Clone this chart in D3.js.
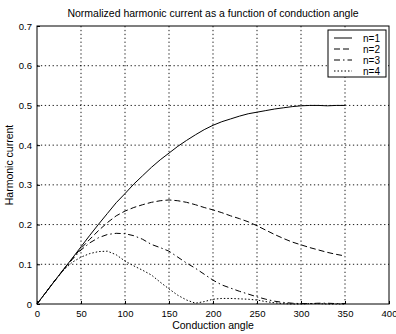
<!DOCTYPE html>
<html>
<head>
<meta charset="utf-8">
<script src="https://cdn.jsdelivr.net/npm/d3@7"></script>
<style>
  body { margin: 0; background: #fff; }
  text { font-family: "Liberation Sans", Arial, sans-serif; fill: #000; }
</style>
</head>
<body>
<div id="chart"></div>
<script>
// angles (degrees) and harmonic values
var angles = [0, 10, 20, 30, 40, 50, 60, 70, 80, 90, 100, 110, 120, 130, 140, 150, 160, 170, 180,
              190, 200, 210, 220, 230, 240, 250, 260, 270, 280, 290, 300, 310, 320, 330, 340, 350];

var n1 = [0, .029, .058, .087, .115, .144, .173, .201, .228, .255, .278, .302, .323, .344, .363, .380, .397, .412, .426,
          .439, .450, .459, .466, .473, .479, .483, .487, .491, .494, .497, .499, .500, .500, .499, .500, .500];
var n2 = [0, .029, .058, .086, .114, .140, .163, .185, .205, .222, .234, .243, .250, .256, .260, .262, .260, .256, .250,
          .243, .237, .230, .222, .215, .207, .197, .186, .175, .165, .156, .149, .142, .136, .130, .125, .121];
var n3 = [0, .029, .058, .086, .112, .136, .154, .167, .175, .178, .177, .172, .163, .150, .142, .133, .118, .103, .090,
          .075, .060, .048, .040, .032, .025, .018, .012, .007, .004, .002, .001, .001, .002, .002, .001, .001];
var n4 = [0, .029, .058, .085, .105, .118, .127, .132, .133, .124, .108, .096, .085, .073, .055, .038, .022, .010, .002,
          .006, .012, .014, .014, .013, .012, .010, .006, .003, .001, 0, 0, .001, .001, 0, 0, 0];

var seriesNames = ["n=1", "n=2", "n=3", "n=4"];
var seriesDash = ["none", "6,3", "6,3,1.5,3", "1.5,2"];

var xTicks = [0, 50, 100, 150, 200, 250, 300, 350, 400];
var yTicks = [0, 0.1, 0.2, 0.3, 0.4, 0.5, 0.6, 0.7];

var margin = {top: 26, right: 7, bottom: 30, left: 37},
    W = 396, H = 334,
    width = W - margin.left - margin.right,
    height = H - margin.top - margin.bottom;

var svg = d3.select("#chart").append("svg")
    .attr("width", W)
    .attr("height", H);

var g = svg.append("g")
    .attr("transform", "translate(" + margin.left + "," + margin.top + ")");

var x = d3.scaleLinear().domain([0, 400]).range([0, width]);
var y = d3.scaleLinear().domain([0, 0.7]).range([height, 0]);

// dotted grid
g.selectAll(".vgrid").data(xTicks.slice(1, -1)).enter().append("line")
    .attr("x1", function(d) { return x(d); }).attr("x2", function(d) { return x(d); })
    .attr("y1", 0).attr("y2", height)
    .attr("stroke", "#000").attr("stroke-width", 0.9).attr("stroke-dasharray", "1.3,2.6");
g.selectAll(".hgrid").data(yTicks.slice(1, -1)).enter().append("line")
    .attr("y1", function(d) { return y(d); }).attr("y2", function(d) { return y(d); })
    .attr("x1", 0).attr("x2", width)
    .attr("stroke", "#000").attr("stroke-width", 0.9).attr("stroke-dasharray", "1.3,2.6");

// axes, ticks pointing inward
var xAxis = g.append("g")
    .attr("transform", "translate(0," + height + ")")
    .call(d3.axisBottom(x).tickValues(xTicks).tickSize(-3).tickPadding(6).tickFormat(d3.format("d")));
var yAxis = g.append("g")
    .call(d3.axisLeft(y).tickValues(yTicks).tickSize(-3).tickPadding(5)
      .tickFormat(function(d) { return d === 0 ? "0" : d3.format(".1f")(d); }));
[xAxis, yAxis].forEach(function(a) {
  a.select(".domain").remove();
  a.selectAll("line").attr("stroke", "#000");
  a.selectAll("text").attr("font-size", "9.5px").attr("fill", "#000")
    .attr("font-family", "'Liberation Sans', Arial, sans-serif");
});

// box
g.append("rect")
    .attr("width", width).attr("height", height)
    .attr("fill", "none").attr("stroke", "#000").attr("stroke-width", 1);

// curves
var allSeries = [n1, n2, n3, n4];
var line = d3.line()
    .x(function(d, i) { return x(angles[i]); })
    .y(function(d) { return y(d); });

g.selectAll(".curve").data(allSeries).enter().append("path")
    .attr("d", line)
    .attr("fill", "none")
    .attr("stroke", "#000")
    .attr("stroke-width", 1)
    .attr("stroke-dasharray", function(d, i) { return seriesDash[i]; });

// legend
var lg = g.append("g").attr("transform", "translate(" + (width - 61) + ",4)");
lg.append("rect")
    .attr("width", 58).attr("height", 47)
    .attr("fill", "#fff").attr("stroke", "#000").attr("stroke-width", 1);
seriesNames.forEach(function(name, i) {
  var yy = 8 + i * 11;
  lg.append("line")
    .attr("x1", 6).attr("x2", 24).attr("y1", yy).attr("y2", yy)
    .attr("stroke", "#000").attr("stroke-width", 1)
    .attr("stroke-dasharray", seriesDash[i]);
  lg.append("text")
    .attr("x", 52).attr("y", yy + 3.5)
    .attr("text-anchor", "end")
    .attr("font-size", "10px")
    .text(name);
});

// title and axis labels
svg.append("text")
    .attr("x", margin.left + width / 2).attr("y", 17)
    .attr("text-anchor", "middle")
    .attr("font-size", "10.5px")
    .text("Normalized harmonic current as a function of conduction angle");

svg.append("text")
    .attr("x", margin.left + width / 2).attr("y", 329)
    .attr("text-anchor", "middle")
    .attr("font-size", "10.5px")
    .text("Conduction angle");

svg.append("text")
    .attr("transform", "translate(13," + (margin.top + height / 2) + ") rotate(-90)")
    .attr("text-anchor", "middle")
    .attr("font-size", "10.5px")
    .text("Harmonic current");
</script>
</body>
</html>
